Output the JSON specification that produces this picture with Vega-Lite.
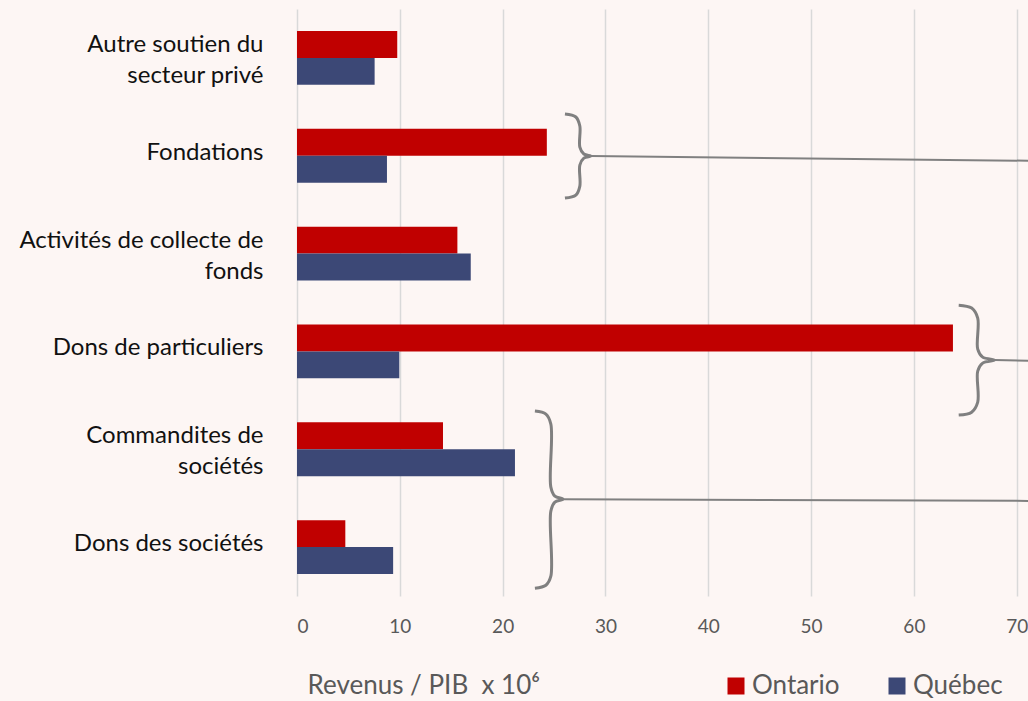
{
  "$schema": "https://vega.github.io/schema/vega-lite/v6.json",
  "autosize": {"type": "none"},
  "width": 731,
  "height": 587,
  "padding": {"left": 297, "top": 9, "right": 0, "bottom": 105},
  "background": "#FDF6F4",
  "config": {
    "view": {"stroke": null},
    "font": "Lato",
    "axis": {"labelFont": "Lato", "titleFont": "Lato"},
    "legend": {"labelFont": "Lato"}
  },
  "datasets": {
    "bars": [
      {"cat": "Autre soutien du secteur privé", "province": "Ontario", "value": 9.75},
      {"cat": "Autre soutien du secteur privé", "province": "Québec", "value": 7.55},
      {"cat": "Fondations", "province": "Ontario", "value": 24.3},
      {"cat": "Fondations", "province": "Québec", "value": 8.75},
      {"cat": "Activités de collecte de fonds", "province": "Ontario", "value": 15.6},
      {"cat": "Activités de collecte de fonds", "province": "Québec", "value": 16.9},
      {"cat": "Dons de particuliers", "province": "Ontario", "value": 63.8},
      {"cat": "Dons de particuliers", "province": "Québec", "value": 9.95},
      {"cat": "Commandites de sociétés", "province": "Ontario", "value": 14.2},
      {"cat": "Commandites de sociétés", "province": "Québec", "value": 21.2},
      {"cat": "Dons des sociétés", "province": "Ontario", "value": 4.7},
      {"cat": "Dons des sociétés", "province": "Québec", "value": 9.35}
    ],
    "braces": [
      {"id": "b1", "o": 1, "x": 26.06, "row": 1.074},
      {"id": "b1", "o": 2, "x": 27.12, "row": 1.104},
      {"id": "b1", "o": 3, "x": 27.51, "row": 1.196},
      {"id": "b1", "o": 4, "x": 27.51, "row": 1.411},
      {"id": "b1", "o": 5, "x": 27.9, "row": 1.482},
      {"id": "b1", "o": 6, "x": 28.58, "row": 1.503},
      {"id": "b1", "o": 7, "x": 27.9, "row": 1.524},
      {"id": "b1", "o": 8, "x": 27.51, "row": 1.595},
      {"id": "b1", "o": 9, "x": 27.51, "row": 1.81},
      {"id": "b1", "o": 10, "x": 27.12, "row": 1.902},
      {"id": "b1", "o": 11, "x": 26.06, "row": 1.933},
      {"id": "b2", "o": 1, "x": 64.36, "row": 3.027},
      {"id": "b2", "o": 2, "x": 65.62, "row": 3.057},
      {"id": "b2", "o": 3, "x": 66.21, "row": 3.16},
      {"id": "b2", "o": 4, "x": 66.21, "row": 3.476},
      {"id": "b2", "o": 5, "x": 66.69, "row": 3.558},
      {"id": "b2", "o": 6, "x": 67.86, "row": 3.589},
      {"id": "b2", "o": 7, "x": 66.69, "row": 3.62},
      {"id": "b2", "o": 8, "x": 66.21, "row": 3.702},
      {"id": "b2", "o": 9, "x": 66.21, "row": 4.018},
      {"id": "b2", "o": 10, "x": 65.62, "row": 4.121},
      {"id": "b2", "o": 11, "x": 64.36, "row": 4.151},
      {"id": "b3", "o": 1, "x": 23.14, "row": 4.11},
      {"id": "b3", "o": 2, "x": 24.21, "row": 4.141},
      {"id": "b3", "o": 3, "x": 24.69, "row": 4.243},
      {"id": "b3", "o": 4, "x": 24.69, "row": 4.887},
      {"id": "b3", "o": 5, "x": 25.08, "row": 4.979},
      {"id": "b3", "o": 6, "x": 25.86, "row": 5.01},
      {"id": "b3", "o": 7, "x": 25.08, "row": 5.041},
      {"id": "b3", "o": 8, "x": 24.69, "row": 5.133},
      {"id": "b3", "o": 9, "x": 24.69, "row": 5.798},
      {"id": "b3", "o": 10, "x": 24.21, "row": 5.89},
      {"id": "b3", "o": 11, "x": 23.14, "row": 5.92}
    ],
    "leaders": [
      {"id": "l1", "o": 1, "x": 28.58, "row": 1.503},
      {"id": "l1", "o": 2, "x": 71.1, "row": 1.551},
      {"id": "l2", "o": 1, "x": 67.86, "row": 3.589},
      {"id": "l2", "o": 2, "x": 71.1, "row": 3.596},
      {"id": "l3", "o": 1, "x": 25.86, "row": 5.01},
      {"id": "l3", "o": 2, "x": 71.1, "row": 5.028}
    ]
  },
  "layer": [
    {
      "data": {"name": "bars"},
      "mark": {"type": "bar"},
      "encoding": {
        "y": {
          "field": "cat",
          "type": "nominal",
          "sort": null,
          "scale": {"paddingInner": 0.45, "paddingOuter": 0.225},
          "axis": {
            "title": null,
            "domain": false,
            "ticks": false,
            "labelPadding": 34,
            "labelFontSize": 24,
            "labelColor": "#111111",
            "labelLineHeight": 31,
            "labelLimit": 400,
            "labelOffset": {
              "condition": {"test": "datum.value == 'Autre soutien du secteur privé' || datum.value == 'Activités de collecte de fonds' || datum.value == 'Commandites de sociétés'", "value": -13},
              "value": -3
            },
            "labelExpr": "datum.value == 'Autre soutien du secteur privé' ? ['Autre soutien du', 'secteur privé'] : datum.value == 'Activités de collecte de fonds' ? ['Activités de collecte de', 'fonds'] : datum.value == 'Commandites de sociétés' ? ['Commandites de', 'sociétés'] : datum.value"
          }
        },
        "yOffset": {"field": "province", "type": "nominal", "sort": ["Ontario", "Québec"], "scale": {"paddingInner": 0, "paddingOuter": 0}},
        "x": {
          "field": "value",
          "type": "quantitative",
          "scale": {"domain": [0, 71.1], "nice": false, "zero": true},
          "axis": {
            "values": [0, 10, 20, 30, 40, 50, 60, 70],
            "grid": true,
            "gridColor": "#D9D9D9",
            "gridWidth": 1.5,
            "domain": false,
            "ticks": false,
            "labelPadding": 21,
            "labelFontSize": 19,
            "labelColor": "#595959",
            "title": "Revenus / PIB \u00a0x 10⁶",
            "titleFontSize": 26,
            "titleFontWeight": "normal",
            "titleColor": "#595959",
            "titleAnchor": "start",
            "titleAlign": "left",
            "titleBaseline": "alphabetic",
            "titleX": 10,
            "titleY": 97
          }
        },
        "color": {
          "field": "province",
          "type": "nominal",
          "sort": ["Ontario", "Québec"],
          "scale": {"domain": ["Ontario", "Québec"], "range": ["#C00000", "#3C4876"]},
          "legend": {
            "title": null,
            "orient": "none",
            "direction": "horizontal",
            "legendX": 426,
            "legendY": 664,
            "symbolType": "square",
            "symbolSize": 289,
            "symbolStrokeWidth": 0,
            "labelFontSize": 26,
            "labelColor": "#595959",
            "labelOffset": 3,
            "columnPadding": 44
          }
        }
      }
    },
    {
      "data": {"name": "braces"},
      "mark": {"type": "line", "interpolate": "catmull-rom", "color": "#808080", "strokeWidth": 3, "strokeCap": "butt"},
      "encoding": {
        "x": {"field": "x", "type": "quantitative"},
        "y": {"field": "row", "type": "quantitative", "scale": {"domain": [0, 6], "reverse": true, "nice": false, "zero": false}, "axis": null},
        "detail": {"field": "id"},
        "order": {"field": "o", "type": "quantitative"}
      }
    },
    {
      "data": {"name": "leaders"},
      "mark": {"type": "line", "color": "#808080", "strokeWidth": 2},
      "encoding": {
        "x": {"field": "x", "type": "quantitative"},
        "y": {"field": "row", "type": "quantitative", "scale": {"domain": [0, 6], "reverse": true, "nice": false, "zero": false}, "axis": null},
        "detail": {"field": "id"},
        "order": {"field": "o", "type": "quantitative"}
      }
    }
  ],
  "resolve": {"scale": {"y": "independent"}}
}
